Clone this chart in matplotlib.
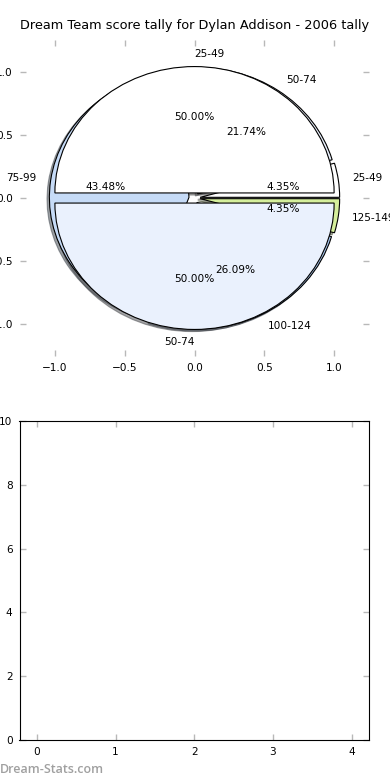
import matplotlib
matplotlib.use("Agg")
import matplotlib.pyplot as plt

# outer pie: 2006 tally, two bands
labels_a = ["25-49", "50-74"]
values_a = [1, 1]
colors_a = ["#ffffff", "#eaf1fd"]

# inner pie: per-band share of scores
labels_b = ["25-49", "50-74", "75-99", "100-124", "125-149"]
values_b = [1, 5, 10, 6, 1]
colors_b = ["#ffffff", "#eaf1fd", "#c6dbf7", "#a9c8f0", "#d5ef9c"]

TITLE = "Dream Team score tally for Dylan Addison - 2006 tally"
TICK_GREY = "#b8b8b8"
FS = 7.6


def _ticks(ax):
    ax.tick_params(direction="in", length=4, width=1, color=TICK_GREY,
                   labelsize=FS, top=True, right=True, pad=5)


fig = plt.figure(figsize=(3.9, 7.8), dpi=100)
ax1 = fig.add_axes([0.0513, 0.5436, 0.8949, 0.4051])
ax2 = fig.add_axes([0.0500, 0.0513, 0.8962, 0.4090])

# second pie first so the two-band pie sits on top of it
texts_a = None
for vals, labs, cols in ((values_b, labels_b, colors_b), (values_a, labels_a, colors_a)):
    _, texts, _ = ax1.pie(vals, labels=labs, colors=cols, explode=[0.04] * len(vals),
                          autopct="%1.2f%%", frame=True,
                          shadow={"ox": -0.012, "oy": -0.012},
                          wedgeprops=dict(edgecolor="black", linewidth=0.8),
                          textprops=dict(fontsize=FS))
    texts_a = texts
# labels sitting right on the vertical axis: old-style alignment
texts_a[0].set_ha("left")
texts_a[1].set_ha("right")

ax1.set_aspect("auto")
ax1.set_xlim(-1.25, 1.25)
ax1.set_ylim(-1.25, 1.25)
ax1.set_xticks([-1.0, -0.5, 0.0, 0.5, 1.0])
ax1.set_yticks([-1.0, -0.5, 0.0, 0.5, 1.0])
for s in ax1.spines.values():
    s.set_visible(False)
_ticks(ax1)
ax1.set_title(TITLE, fontsize=9.3, pad=8)

# empty lower panel
ax2.set_xlim(-0.22, 4.22)
ax2.set_ylim(0, 10)
ax2.set_xticks(range(5))
ax2.set_yticks(range(0, 11, 2))
_ticks(ax2)

fig.text(0.0, 0.013, "Dream-Stats.com", fontsize=9, color="#a0a0a0",
         family="Open Sans", fontweight="semibold", ha="left", va="center")

fig.savefig("out.png", dpi=100)
